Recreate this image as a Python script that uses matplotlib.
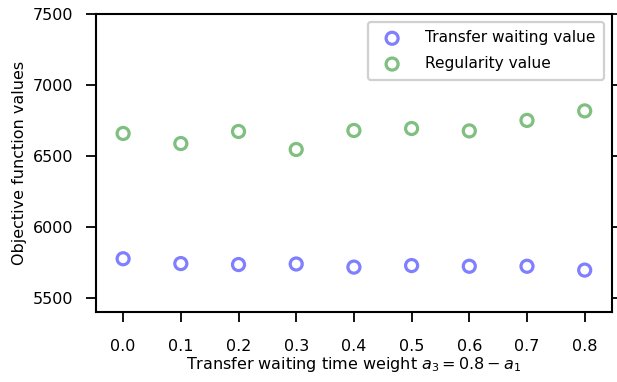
import matplotlib
matplotlib.use("Agg")
import matplotlib.pyplot as plt

weights = ["0.0", "0.1", "0.2", "0.3", "0.4", "0.5", "0.6", "0.7", "0.8"]
transfer_waiting = [5776, 5742, 5735, 5739, 5717, 5728, 5723, 5723, 5696]
regularity = [6659, 6588, 6673, 6546, 6680, 6694, 6677, 6751, 6818]
yticks = [5500, 6000, 6500, 7000, 7500]

plt.rcParams["font.family"] = "DejaVu Sans"

fig = plt.figure(figsize=(6.17, 3.82), dpi=100)
ax = fig.add_axes([0.1556, 0.183, 0.836, 0.78])

x = range(len(weights))
ax.scatter(x, transfer_waiting, s=75, facecolors="none", edgecolors="b",
           linewidths=2.3, alpha=0.5, label="Transfer waiting value")
ax.scatter(x, regularity, s=75, facecolors="none", edgecolors="g",
           linewidths=2.3, alpha=0.5, label="Regularity value")

ax.set_xlim(-0.47, len(weights) - 0.53)
ax.set_ylim(5400, 7500)
ax.set_xticks(list(x))
ax.set_xticklabels(weights)
ax.set_yticks(yticks)

ax.tick_params(axis="both", labelsize=11.5, length=7, width=1.3)
ax.tick_params(axis="x", pad=12.5)
ax.tick_params(axis="y", pad=9.5, right=True)
for sp in ax.spines.values():
    sp.set_linewidth(1.5)

ax.set_xlabel("Transfer waiting time weight $a_3 = 0.8 - a_1$", fontsize=11.5,
              labelpad=0.5)
ax.set_ylabel("Objective function values", fontsize=11.5)

leg = ax.legend(loc="upper right", fontsize=11.1, handletextpad=1.15,
                labelspacing=0.7, borderpad=0.55, framealpha=1,
                edgecolor="#d0d0d0")
leg.get_frame().set_linewidth(1.6)

fig.savefig("out.png", dpi=100)
